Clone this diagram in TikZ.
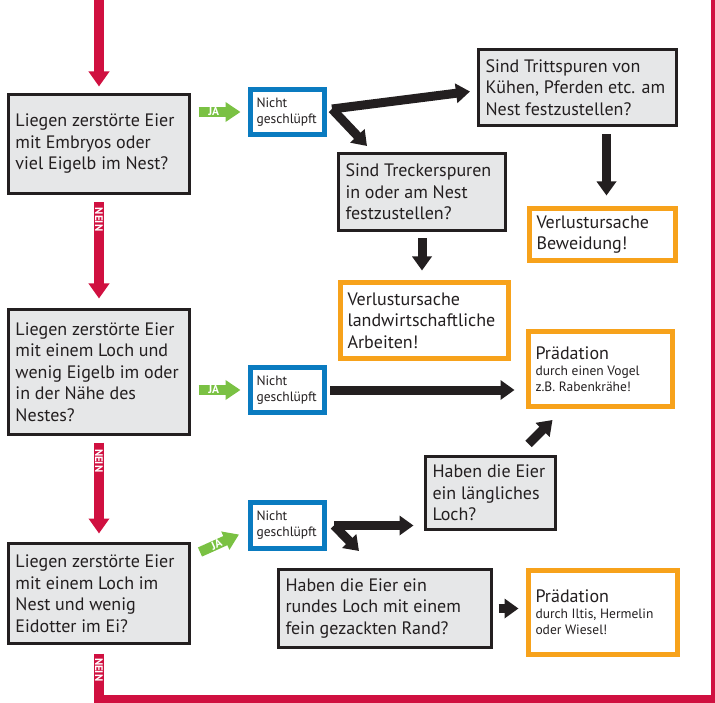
\documentclass[tikz,border=0pt]{standalone}
\usepackage{fontspec}
\setmainfont{PT Sans}
\usetikzlibrary{arrows.meta,calc}
\definecolor{neinred}{HTML}{D01040}
\definecolor{jagreen}{HTML}{7AC143}
\definecolor{hatchblue}{HTML}{0A7BC0}
\definecolor{causeorange}{HTML}{F7A21B}
\definecolor{boxgrey}{HTML}{E6E7E8}
\definecolor{ink}{HTML}{231F20}
\newcommand{\bigtext}{\fontsize{18}{21.5}\selectfont}
\newcommand{\smalltext}{\fontsize{13.5}{16}\selectfont}
\tikzset{
    key diagram/.style = {x=1pt, y=-1pt, text=ink, line join=miter},
    question/.style    = {draw=ink, line width=3pt, fill=boxgrey,
                          align=flush left, inner xsep=7pt, font=\bigtext},
    cause/.style       = {draw=causeorange, line width=5pt, fill=white,
                          align=flush left, inner xsep=7pt, font=\bigtext},
    predator/.style    = {cause, font=\smalltext},
    hatch/.style       = {draw=hatchblue, line width=5pt, fill=white,
                          align=flush left, inner xsep=6pt,
                          minimum width=74pt, text width=62pt, font=\smalltext},
    nein/.style        = {draw=neinred, line width=10pt,
                          -{Triangle[width=20pt,length=15pt]}},
    nein line/.style   = {draw=neinred, line width=10pt},
    nein label/.style  = {text=white, rotate=-90, anchor=west,
                          inner xsep=8pt, inner ysep=0pt,
                          font=\bfseries\fontsize{11}{11}\selectfont},
    ja/.style          = {draw=jagreen, line width=10pt,
                          -{Triangle[width=19pt,length=15pt]}},
    ja label/.style    = {text=white, inner sep=0pt,
                          font=\bfseries\fontsize{11.5}{11.5}\selectfont},
    flow/.style        = {draw=ink, line width=9pt,
                          -{Triangle[width=19pt,length=14pt]}}
}

\begin{document}
\begin{tikzpicture}[key diagram]
\useasboundingbox (0,0) rectangle (715,703);

\node[question,minimum width=181pt,text width=167pt,minimum height=99pt] (q1) at (99,144)
    {Liegen zerstörte Eier\\mit Embryos oder\\viel Eigelb im Nest?};
\node[question,minimum width=181pt,text width=167pt,minimum height=125pt] (q2) at (99,372)
    {Liegen zerstörte Eier\\mit einem Loch und\\wenig Eigelb im oder\\in der Nähe des\\Nestes?};
\node[question,minimum width=181pt,text width=167pt,minimum height=100pt] (q3) at (99,593.5)
    {Liegen zerstörte Eier\\mit einem Loch im\\Nest und wenig\\Eidotter im Ei?};

\node[hatch,minimum height=45pt] (nicht1) at (287.5,112) {Nicht\\geschlüpft};
\node[hatch,minimum height=45pt] (nicht2) at (287.5,390) {Nicht\\geschlüpft};
\node[hatch,minimum height=46pt] (nicht3) at (287.5,525.5) {Nicht\\geschlüpft};

\node[question,minimum width=198pt,text width=184pt,minimum height=76pt] (tritt) at (577.5,87.5)
    {Sind Trittspuren von\\Kühen, Pferden etc. am\\Nest festzustellen?};
\node[question,minimum width=167pt,text width=153pt,minimum height=77pt] (trecker) at (422,192)
    {Sind Treckerspuren\\in oder am Nest\\festzustellen?};
\node[question,minimum width=130pt,text width=116pt,minimum height=73pt] (laenglich) at (490.5,493)
    {Haben die Eier\\ein längliches\\Loch?};
\node[question,minimum width=213pt,text width=199pt,minimum height=78pt] (rund) at (385,608.5)
    {Haben die Eier ein\\rundes Loch mit einem\\fein gezackten Rand?};

\node[cause,minimum width=146pt,text width=132pt,minimum height=52pt] (weide) at (602.5,234.5)
    {Verlustursache\\Beweidung!};
\node[cause,minimum width=168pt,text width=154pt,minimum height=76pt] (landw) at (424.5,320.5)
    {Verlustursache\\landwirtschaftliche\\Arbeiten!};
\node[predator,minimum width=144pt,text width=130pt,minimum height=75pt] (vogel) at (600.5,369)
    {{\bigtext Prädation}\\durch einen Vogel\\z.B. Rabenkrähe!\\[-3pt]};
\node[predator,minimum width=149pt,text width=135pt,minimum height=84pt] (marder) at (603,612.5)
    {{\bigtext Prädation}\\durch Iltis, Hermelin\\oder Wiesel!\\[-3pt]};

\coordinate (entry) at (99,0);
\coordinate (bend) at (715.5,699.5);
\coordinate (exit) at (715.5,0);
\draw[nein,shorten >=6.5pt] (entry) -- (q1.north);
\draw[nein,shorten <=7.5pt,shorten >=9.5pt] (q1.south) -- node[nein label,pos=0] {NEIN} (q2.north);
\draw[nein,shorten <=6.5pt,shorten >=8.5pt] (q2.south) -- node[nein label,pos=0] {NEIN} (q3.north);
\draw[nein line,shorten <=8.5pt] (q3.south) |- node[nein label,pos=0] {NEIN} (bend) -- (exit);

\foreach \q/\n in {q1/nicht1,q2/nicht2}
    \draw[ja,shorten <=7.5pt,shorten >=7.5pt] (\q.east |- \n.west)
        -- node[ja label,pos=0.4] {JA} (\n.west);
\draw[ja] ($(q3.north east)+(9,10)$) -- node[ja label,sloped,pos=0.42] {JA} ($(nicht3.west)+(-9,9)$);

\draw[flow] ($(nicht1.east)+(5,-3)$) -- ($(tritt.west)+(-7,4)$);
\draw[flow] ($(nicht1.east)+(5,-3)$) -- ($(trecker.north west)+(30,-6)$);
\draw[flow,shorten <=7.5pt,shorten >=10.5pt] ([xshift=4pt]weide.north |- tritt.south) -- ([xshift=4pt]weide.north);
\draw[flow,shorten <=6.5pt,shorten >=9.5pt] (trecker.south) -- (trecker.south |- landw.north);
\draw[flow,shorten <=3pt,shorten >=11.5pt] (nicht2.east) -- (nicht2.east -| vogel.west);
\draw[flow] ($(laenglich.north)+(38,-11)$) -- ($(vogel.south)+(-48,11)$);
\draw[flow,shorten <=7pt,shorten >=10.5pt] (nicht3.east) -- (nicht3.east -| laenglich.west);
\draw[flow] ($(nicht3.east)+(7,0)$) -- ($(rund.north west)+(82,-17)$);
\draw[flow,shorten <=5.5pt,shorten >=7.5pt] (rund.east) -- (rund.east -| marder.west);
\end{tikzpicture}
\end{document}
